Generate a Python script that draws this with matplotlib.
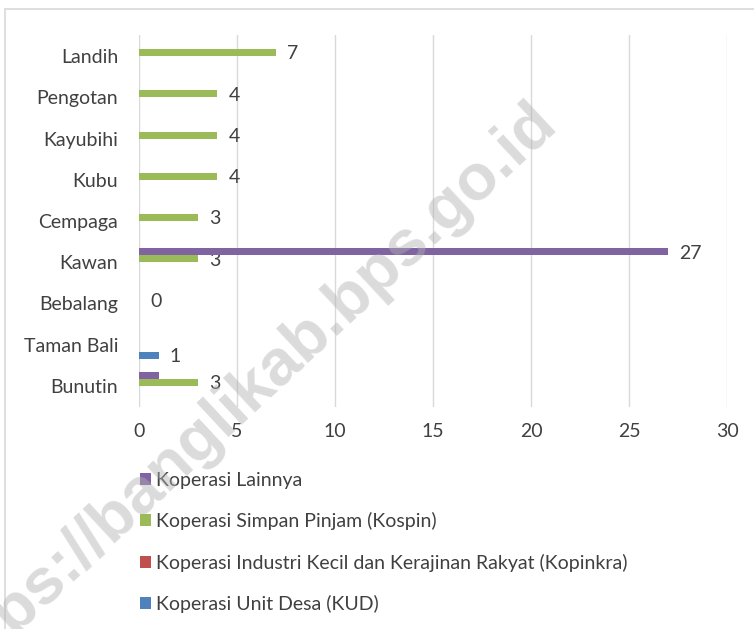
import numpy as np
import matplotlib
matplotlib.use("Agg")
import matplotlib.pyplot as plt
from matplotlib.patches import Rectangle

# --- данные ---
desa = ["Bunutin", "Taman Bali", "Bebalang", "Kawan", "Cempaga",
        "Kubu", "Kayubihi", "Pengotan", "Landih"]
kud = [0, 1, 0, 0, 0, 0, 0, 0, 0]
kopinkra = [0, 0, 0, 0, 0, 0, 0, 0, 0]
kospin = [3, 0, 0, 3, 3, 4, 4, 4, 7]
lainnya = [1, 0, 0, 27, 0, 0, 0, 0, 0]

series_names = ["Koperasi Unit Desa (KUD)",
                "Koperasi Industri Kecil dan Kerajinan Rakyat (Kopinkra)",
                "Koperasi Simpan Pinjam (Kospin)",
                "Koperasi Lainnya"]
series_values = [kud, kopinkra, kospin, lainnya]
colors = ["#4F81BD", "#C0504D", "#9BBB59", "#8064A2"]
# какие подписи видны на исходной картинке: серия -> индексы категорий
shown_labels = {0: [1], 2: [0, 2, 3, 4, 5, 6, 7, 8], 3: [3]}

plt.rcParams['font.family'] = ['Liberation Sans Narrow', 'Lato', 'DejaVu Sans']
txt_color = "#404040"
fs = 14

fig = plt.figure(figsize=(7.54, 6.29), dpi=100)
ax = fig.add_axes([0.1844, 0.3536, 0.9642 - 0.1844, 0.9436 - 0.3536])

y = np.arange(len(desa))
h = 0.17
for i, (vals, col) in enumerate(zip(series_values, colors)):
    pos = y + (i - 1.5) * h
    ax.barh(pos, vals, height=h, color=col, label=series_names[i], zorder=3)
    for j in shown_labels.get(i, []):
        ax.annotate(str(vals[j]), (vals[j], pos[j]), xytext=(8, -1),
                    textcoords="offset points", va="center", ha="left",
                    fontsize=fs, color=txt_color)

ax.set_xlim(0, 30)
ax.set_ylim(-0.5, len(desa) - 0.5)
ax.set_xticks(np.arange(0, 31, 5))
ax.set_yticks(y)
ax.set_yticklabels(desa)
ax.tick_params(axis="both", length=0, labelsize=fs, colors=txt_color)
ax.tick_params(axis="x", pad=12)
ax.tick_params(axis="y", pad=15)
ax.grid(axis="x", color="#d9d9d9", linewidth=1, zorder=0)
for s in ax.spines.values():
    s.set_visible(False)

handles, labels = ax.get_legend_handles_labels()
fig.legend(handles[::-1], labels[::-1], loc="upper left",
           bbox_to_anchor=(0.186, 0.25), frameon=False, fontsize=fs,
           handlelength=0.55, handleheight=0.55, handletextpad=0.25,
           labelspacing=1.2, borderpad=0, borderaxespad=0,
           labelcolor=txt_color)

# рамка вокруг диаграммы
fig.patches.append(Rectangle((5 / 754, -0.1), 1.2, 1 - 9 / 629 + 0.1,
                             transform=fig.transFigure, fill=False,
                             edgecolor="#d9d9d9", linewidth=1.2))

# водяной знак
fig.text(244 / 754, 1 - 395 / 629, "https://banglikab.bps.go.id",
         rotation=43, ha="center", va="center", fontsize=47,
         fontweight="bold", family=["Liberation Sans", "DejaVu Sans"],
         color="#b0b0b0", alpha=0.45, zorder=10)

fig.savefig("out.png", dpi=100)
